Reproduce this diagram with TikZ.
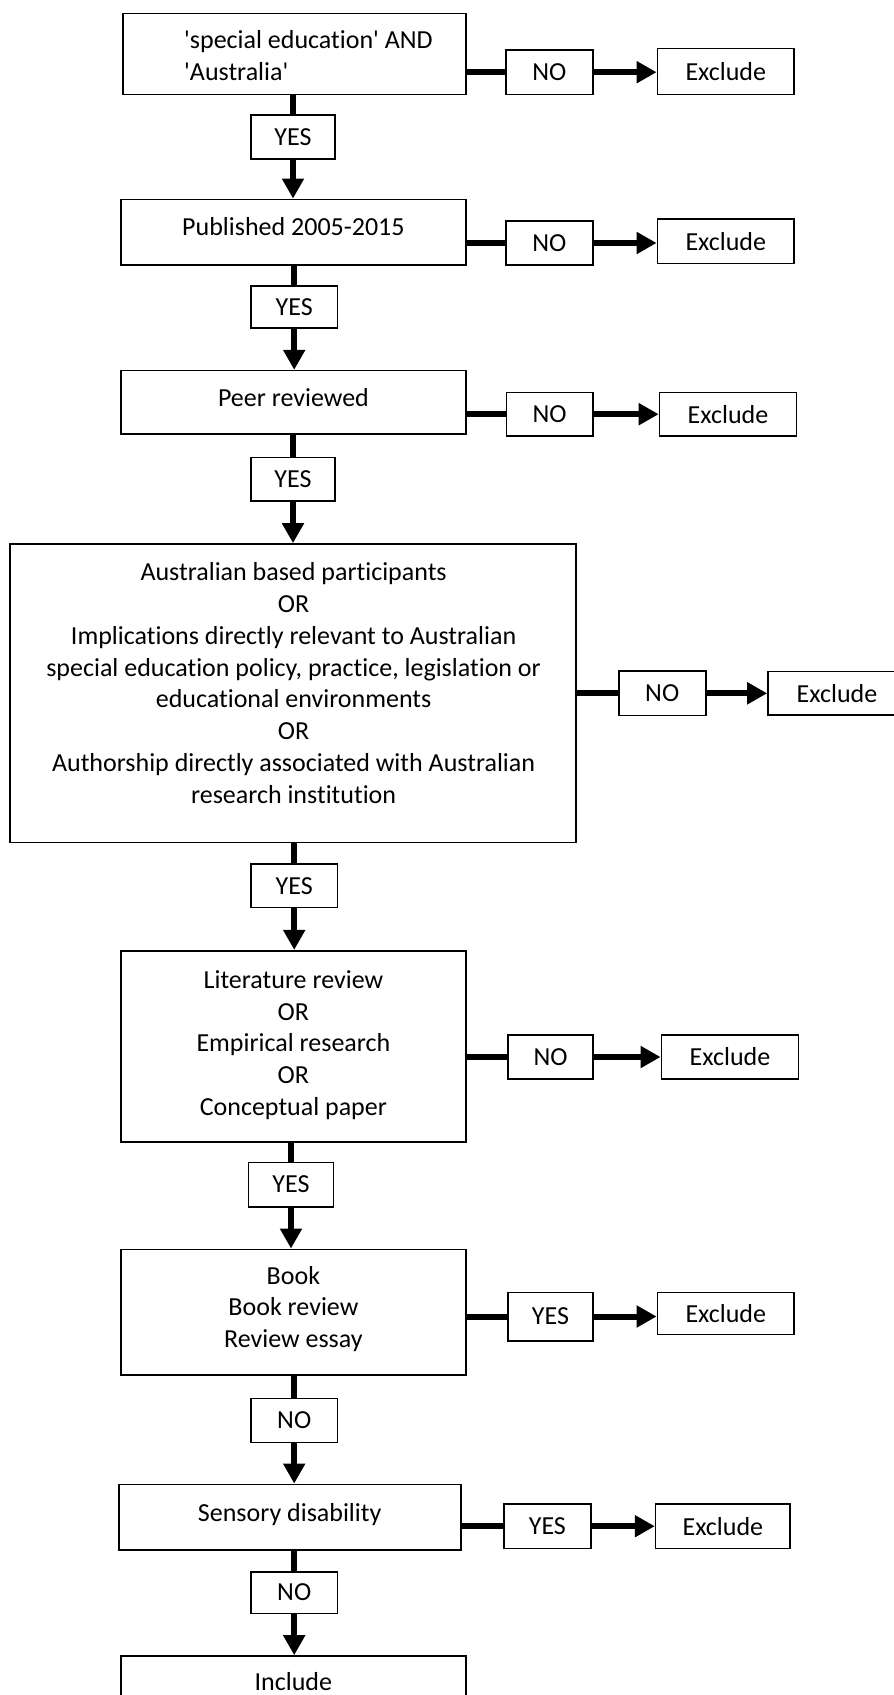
\documentclass[tikz,border=0pt]{standalone}
\usepackage{fontspec}
\setmainfont{Carlito}[Ligatures=NoCommon]
\usetikzlibrary{arrows.meta}
\begin{document}
\begin{tikzpicture}[x=1pt,y=-1pt,
  box/.style={draw, line width=1.6pt, inner sep=0pt},
  txt/.style={inner sep=0pt, align=center, font=\fontsize{26}{31.8}\selectfont},
  conn/.style={line width=6pt},
  arr/.style={line width=6pt, -{Triangle[length=20pt,width=21pt]}}]
\useasboundingbox (0,0) rectangle (894,1695);
% main boxes
\node[box, minimum width=343pt, minimum height=81pt] (b1) at (294.2,53.8) {};
\node[txt, align=left, anchor=west] (t1) at (184,55.5) {\textquotesingle special education\textquotesingle\ AND\\\textquotesingle Australia\textquotesingle};
\node[box, minimum width=345pt, minimum height=65.7pt] (b2) at (293.4,232.2) {};
\node[txt] (t2) at (293.4,227) {Published 2005-2015};
\node[box, minimum width=345pt, minimum height=63.3pt] (b3) at (293.4,402.3) {};
\node[txt] (t3) at (293.4,398) {Peer reviewed};
\node[box, minimum width=565.5pt, minimum height=298.7pt] (b4) at (293,693.3) {};
\node[txt] (t4) at (293.6,683) {Australian based participants\\OR\\Implications directly relevant to Australian\\special education policy, practice, legislation or\\educational environments\\OR\\Authorship directly associated with Australian\\research institution};
\node[box, minimum width=345pt, minimum height=191pt] (b5) at (293.4,1046.2) {};
\node[txt] (t5) at (293.4,1045) {Literature review\\OR\\Empirical research\\OR\\Conceptual paper};
\node[box, minimum width=345pt, minimum height=125.7pt] (b6) at (293.4,1312.2) {};
\node[txt] (t6) at (293.4,1309) {Book\\Book review\\Review essay};
\node[box, minimum width=342pt, minimum height=65.7pt] (b7) at (289.7,1517.2) {};
\node[txt] (t7) at (289.7,1515) {Sensory disability};
\node[box, minimum width=345pt, minimum height=90pt] (b8) at (293.4,1701) {};
\node[txt] (t8) at (293.4,1682) {Include};
% side decision labels
\node[box, minimum width=87pt, minimum height=44.3pt] (n1) at (549.3,72.2) {};
\node[txt] at (n1) {NO};
\node[box, minimum width=87pt, minimum height=44pt] (n2) at (549.3,243) {};
\node[txt] at (n2) {NO};
\node[box, minimum width=86.6pt, minimum height=43.7pt] (n3) at (549.6,414.2) {};
\node[txt] at (n3) {NO};
\node[box, minimum width=87pt, minimum height=44.7pt] (n4) at (662.2,693.3) {};
\node[txt] at (n4) {NO};
\node[box, minimum width=85pt, minimum height=44pt] (n5) at (550.5,1057) {};
\node[txt] at (n5) {NO};
\node[box, minimum width=85pt, minimum height=48.4pt] (n6) at (550.5,1316.5) {};
\node[txt] at (n6) {YES};
\node[box, minimum width=86.7pt, minimum height=44.3pt] (n7) at (547.4,1526.2) {};
\node[txt] at (n7) {YES};
% exclude boxes
\node[box, minimum width=136.8pt, minimum height=46pt] (e1) at (725.8,71.3) {};
\node[txt] at (e1) {Exclude};
\node[box, minimum width=136.8pt, minimum height=44.3pt] (e2) at (725.8,241.2) {};
\node[txt] at (e2) {Exclude};
\node[box, minimum width=137pt, minimum height=43.7pt] (e3) at (728,414.2) {};
\node[txt] at (e3) {Exclude};
\node[box, minimum width=138pt, minimum height=43.5pt] (e4) at (837,693.3) {};
\node[txt] at (e4) {Exclude};
\node[box, minimum width=137.3pt, minimum height=44pt] (e5) at (730,1057) {};
\node[txt] at (e5) {Exclude};
\node[box, minimum width=136.8pt, minimum height=42pt] (e6) at (725.8,1313.3) {};
\node[txt] at (e6) {Exclude};
\node[box, minimum width=134.6pt, minimum height=44.3pt] (e7) at (722.9,1526.2) {};
\node[txt] at (e7) {Exclude};
% downward labels
\node[box, minimum width=84.3pt, minimum height=44pt] (y1) at (293,137) {};
\node[txt] at (y1) {YES};
\node[box, minimum width=86.6pt, minimum height=42pt] (y2) at (294.2,306.7) {};
\node[txt] at (y2) {YES};
\node[box, minimum width=84.3pt, minimum height=43.7pt] (y3) at (293,479.2) {};
\node[txt] at (y3) {YES};
\node[box, minimum width=86.6pt, minimum height=43.3pt] (y4) at (294.2,885.7) {};
\node[txt] at (y4) {YES};
\node[box, minimum width=85pt, minimum height=44.4pt] (y5) at (291,1184.5) {};
\node[txt] at (y5) {YES};
\node[box, minimum width=86.6pt, minimum height=44pt] (y6) at (294.2,1420.3) {};
\node[txt] at (y6) {NO};
\node[box, minimum width=86.6pt, minimum height=41.6pt] (y7) at (294.2,1592.5) {};
\node[txt] at (y7) {NO};
% vertical connectors
\foreach \b/\y/\c in {b1/y1/b2, b2/y2/b3, b3/y3/b4, b4/y4/b5, b5/y5/b6, b6/y6/b7, b7/y7/b8}{
  \draw[conn] (\y.north |- \b.south) -- (\y.north);
  \draw[arr] (\y.south) -- (\y.south |- \c.north);
}
% horizontal connectors
\foreach \b/\n/\e in {b1/n1/e1, b2/n2/e2, b3/n3/e3, b4/n4/e4, b5/n5/e5, b6/n6/e6, b7/n7/e7}{
  \draw[conn] (\n.west -| \b.east) -- (\n.west);
  \draw[arr] (\n.east) -- (\n.east -| \e.west);
}
\end{tikzpicture}
\end{document}
